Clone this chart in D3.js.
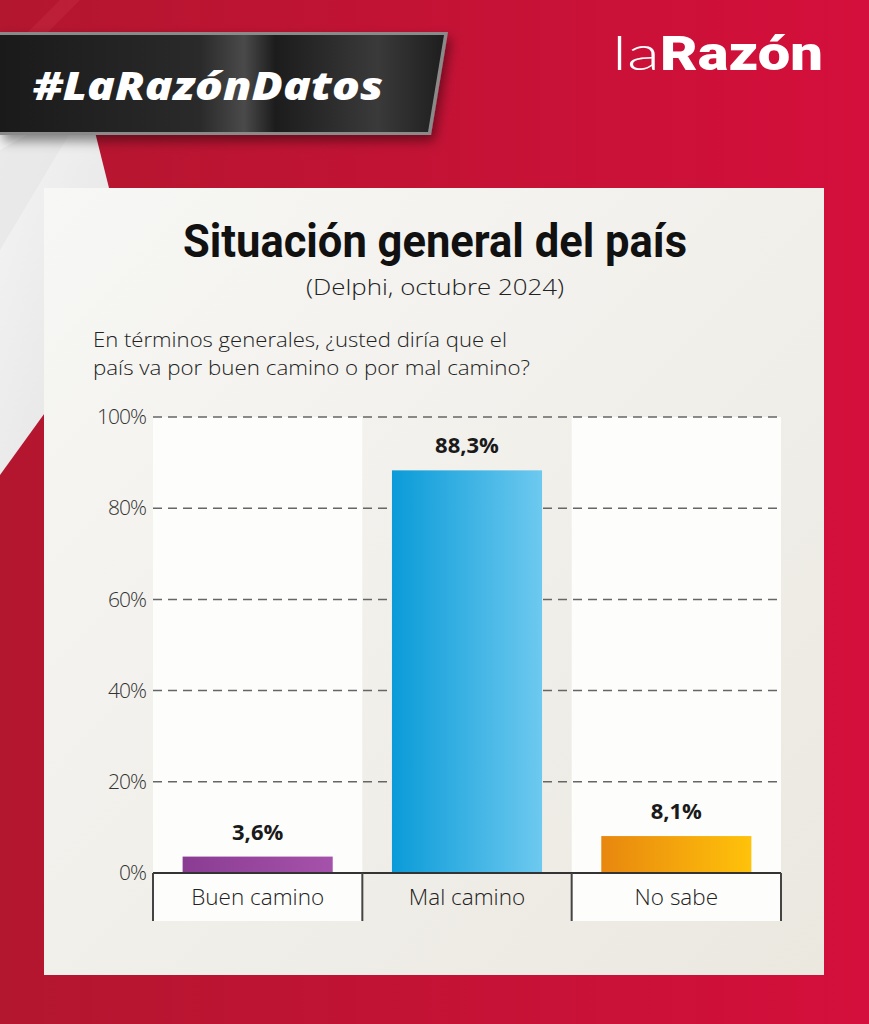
<!DOCTYPE html>
<html>
<head>
<meta charset="utf-8">
<script src="https://cdn.jsdelivr.net/npm/d3@7"></script>
<style>
html,body{margin:0;padding:0;background:#c0142f;}
svg{display:block;}
</style>
</head>
<body>
<svg id="chart" width="869" height="1024"></svg>
<script>
// ---- data ----
const categories = ["Buen camino", "Mal camino", "No sabe"];
const values = [3.6, 88.3, 8.1];
const valueLabels = ["3,6%", "88,3%", "8,1%"];
const tickValues = [0, 20, 40, 60, 80, 100];
const tickLabels = ["0%", "20%", "40%", "60%", "80%", "100%"];
const barGradients = [["#8a3c93", "#a552aa"], ["#0a9bd8", "#6dc9ef"], ["#e8870f", "#ffc20a"]];
const title = "Situación general del país";
const subtitle = "(Delphi, octubre 2024)";
const question = ["En términos generales, ¿usted diría que el", "país va por buen camino o por mal camino?"];

const svg = d3.select("#chart");
const defs = svg.append("defs");

// background gradient
const bg = defs.append("linearGradient").attr("id", "bgGrad").attr("x1", 0).attr("x2", 1).attr("y1", 0).attr("y2", 0);
bg.append("stop").attr("offset", "0%").attr("stop-color", "#b3162f");
bg.append("stop").attr("offset", "100%").attr("stop-color", "#d40f3b");
svg.append("rect").attr("width", 869).attr("height", 1024).attr("fill", "url(#bgGrad)");

// left gray shapes
const gs = defs.append("linearGradient").attr("id", "grayGrad").attr("x1", 0).attr("x2", 1).attr("y1", 0).attr("y2", 1);
gs.append("stop").attr("offset", "0%").attr("stop-color", "#f4f4f4");
gs.append("stop").attr("offset", "100%").attr("stop-color", "#e2e2e2");
svg.append("polygon").attr("points", "0,120 92,120 112,200 112,320 0,475").attr("fill", "url(#grayGrad)");
svg.append("polygon").attr("points", "0,150 30,133 70,133 0,250").attr("fill", "#e6e6e6").attr("opacity", 0.7);
svg.append("polygon").attr("points", "60,0 80,0 40,40 20,40").attr("fill", "#c4283f").attr("opacity", 0.5);

// banner
const bn = defs.append("linearGradient").attr("id", "banGrad").attr("x1", 0).attr("x2", 1).attr("y1", 0).attr("y2", 0);
bn.append("stop").attr("offset", "0%").attr("stop-color", "#1a1a1a");
bn.append("stop").attr("offset", "45%").attr("stop-color", "#2a2a2a");
bn.append("stop").attr("offset", "55%").attr("stop-color", "#4a4a4a");
bn.append("stop").attr("offset", "62%").attr("stop-color", "#1c1c1c");
bn.append("stop").attr("offset", "85%").attr("stop-color", "#3a3a3a");
bn.append("stop").attr("offset", "100%").attr("stop-color", "#1e1e1e");
const sh = defs.append("filter").attr("id", "shadow").attr("x", "-10%").attr("y", "-10%").attr("width", "130%").attr("height", "140%");
sh.append("feDropShadow").attr("dx", 3).attr("dy", 6).attr("stdDeviation", 6).attr("flood-color", "#000").attr("flood-opacity", 0.45);
svg.append("polygon").attr("points", "0,32 448,32 431,135 0,135").attr("fill", "#8a8a8a").attr("filter", "url(#shadow)");
svg.append("polygon").attr("points", "0,35 444,35 428,132 0,132").attr("fill", "url(#banGrad)");
svg.append("text").attr("x", 33).attr("y", 100)
  .attr("font-family", "'Open Sans', sans-serif").attr("font-weight", 800).attr("font-style", "italic")
  .attr("font-size", 39).attr("fill", "#ffffff").attr("textLength", 350).attr("lengthAdjust", "spacingAndGlyphs")
  .text("#LaRazónDatos");

// logo
const logo = svg.append("text").attr("x", 612).attr("y", 70).attr("fill", "#ffffff").attr("font-size", 48);
logo.append("tspan").attr("font-family", "Lato, sans-serif").attr("font-weight", 300).attr("textLength", 48).attr("lengthAdjust", "spacingAndGlyphs").text("la");
logo.append("tspan").attr("font-family", "Roboto, sans-serif").attr("font-weight", 900).attr("textLength", 163).attr("lengthAdjust", "spacingAndGlyphs").text("Razón");

// card
const cg = defs.append("linearGradient").attr("id", "cardGrad").attr("x1", 0).attr("x2", 1).attr("y1", 0).attr("y2", 1);
cg.append("stop").attr("offset", "0%").attr("stop-color", "#f7f7f5");
cg.append("stop").attr("offset", "100%").attr("stop-color", "#ebe8e0");
svg.append("rect").attr("x", 44).attr("y", 188).attr("width", 780).attr("height", 787).attr("fill", "url(#cardGrad)");

// titles
svg.append("text").attr("x", 435).attr("y", 257).attr("text-anchor", "middle")
  .attr("font-family", "Roboto, sans-serif").attr("font-weight", 700).attr("font-size", 47)
  .attr("fill", "#111").attr("textLength", 504).attr("lengthAdjust", "spacingAndGlyphs").text(title);
svg.append("text").attr("x", 435).attr("y", 295).attr("text-anchor", "middle")
  .attr("font-family", "'Open Sans', sans-serif").attr("font-weight", 300).attr("font-size", 22)
  .attr("fill", "#222").attr("textLength", 258).attr("lengthAdjust", "spacingAndGlyphs").text(subtitle);
const qLens = [414, 437];
question.forEach((q, i) => {
  svg.append("text").attr("x", 93).attr("y", 347 + i * 28)
    .attr("font-family", "'Open Sans', sans-serif").attr("font-weight", 300).attr("font-size", 19.5)
    .attr("fill", "#222").attr("textLength", qLens[i]).attr("lengthAdjust", "spacingAndGlyphs").text(q);
});

// scales
const x = d3.scaleBand().domain(categories).range([153, 781]).padding(0);
const y = d3.scaleLinear().domain([0, 100]).range([873, 417]);
const bw = x.bandwidth();
const barW = bw * 0.717;
const labelBottom = 921;

// white column bands
svg.selectAll("rect.band").data(categories.filter((c, i) => i !== 1)).enter().append("rect")
  .attr("class", "band").attr("x", d => x(d)).attr("y", y(100)).attr("width", bw)
  .attr("height", labelBottom - y(100)).attr("fill", "#fdfdfc");

// gridlines
svg.selectAll("line.grid").data(tickValues.filter(t => t > 0)).enter().append("line")
  .attr("class", "grid").attr("x1", 153).attr("x2", 781).attr("y1", d => y(d)).attr("y2", d => y(d))
  .attr("stroke", "#666").attr("stroke-width", 1.5).attr("stroke-dasharray", "9,6");

// y axis labels
const yAxis = d3.axisLeft(y).tickValues(tickValues).tickFormat((d, i) => tickLabels[i]).tickSize(0).tickPadding(7);
const ya = svg.append("g").attr("transform", "translate(153,0)").call(yAxis);
ya.select(".domain").remove();
ya.selectAll("text").attr("font-family", "'Open Sans', sans-serif").attr("font-weight", 300)
  .attr("font-size", 21).attr("fill", "#333").attr("letter-spacing", -1);

// bars
categories.forEach((c, i) => {
  const g = defs.append("linearGradient").attr("id", "bar" + i).attr("x1", 0).attr("x2", 1).attr("y1", 0).attr("y2", 0);
  g.append("stop").attr("offset", "0%").attr("stop-color", barGradients[i][0]);
  g.append("stop").attr("offset", "100%").attr("stop-color", barGradients[i][1]);
});
svg.selectAll("rect.bar").data(categories).enter().append("rect")
  .attr("class", "bar").attr("x", d => x(d) + (bw - barW) / 2).attr("width", barW)
  .attr("y", (d, i) => y(values[i])).attr("height", (d, i) => y(0) - y(values[i]))
  .attr("fill", (d, i) => `url(#bar${i})`);

// value labels
svg.selectAll("text.val").data(categories).enter().append("text")
  .attr("class", "val").attr("x", d => x(d) + bw / 2).attr("y", (d, i) => y(values[i]) - 17)
  .attr("text-anchor", "middle").attr("font-family", "'Open Sans', sans-serif").attr("font-weight", 700)
  .attr("font-size", 22).attr("fill", "#1a1a1a").text((d, i) => valueLabels[i]);

// baseline and separators
svg.append("line").attr("x1", 153).attr("x2", 781).attr("y1", y(0)).attr("y2", y(0)).attr("stroke", "#333").attr("stroke-width", 2);
const seps = categories.map(c => x(c)).concat([x(categories[categories.length - 1]) + bw]);
svg.selectAll("line.sep").data(seps).enter().append("line")
  .attr("class", "sep").attr("x1", d => d).attr("x2", d => d).attr("y1", y(0)).attr("y2", labelBottom)
  .attr("stroke", "#444").attr("stroke-width", 2);

// category labels
svg.selectAll("text.cat").data(categories).enter().append("text")
  .attr("class", "cat").attr("x", d => x(d) + bw / 2).attr("y", 905).attr("text-anchor", "middle")
  .attr("font-family", "'Open Sans', sans-serif").attr("font-weight", 300).attr("font-size", 22.5)
  .attr("fill", "#222").text(d => d);
</script>
</body>
</html>
